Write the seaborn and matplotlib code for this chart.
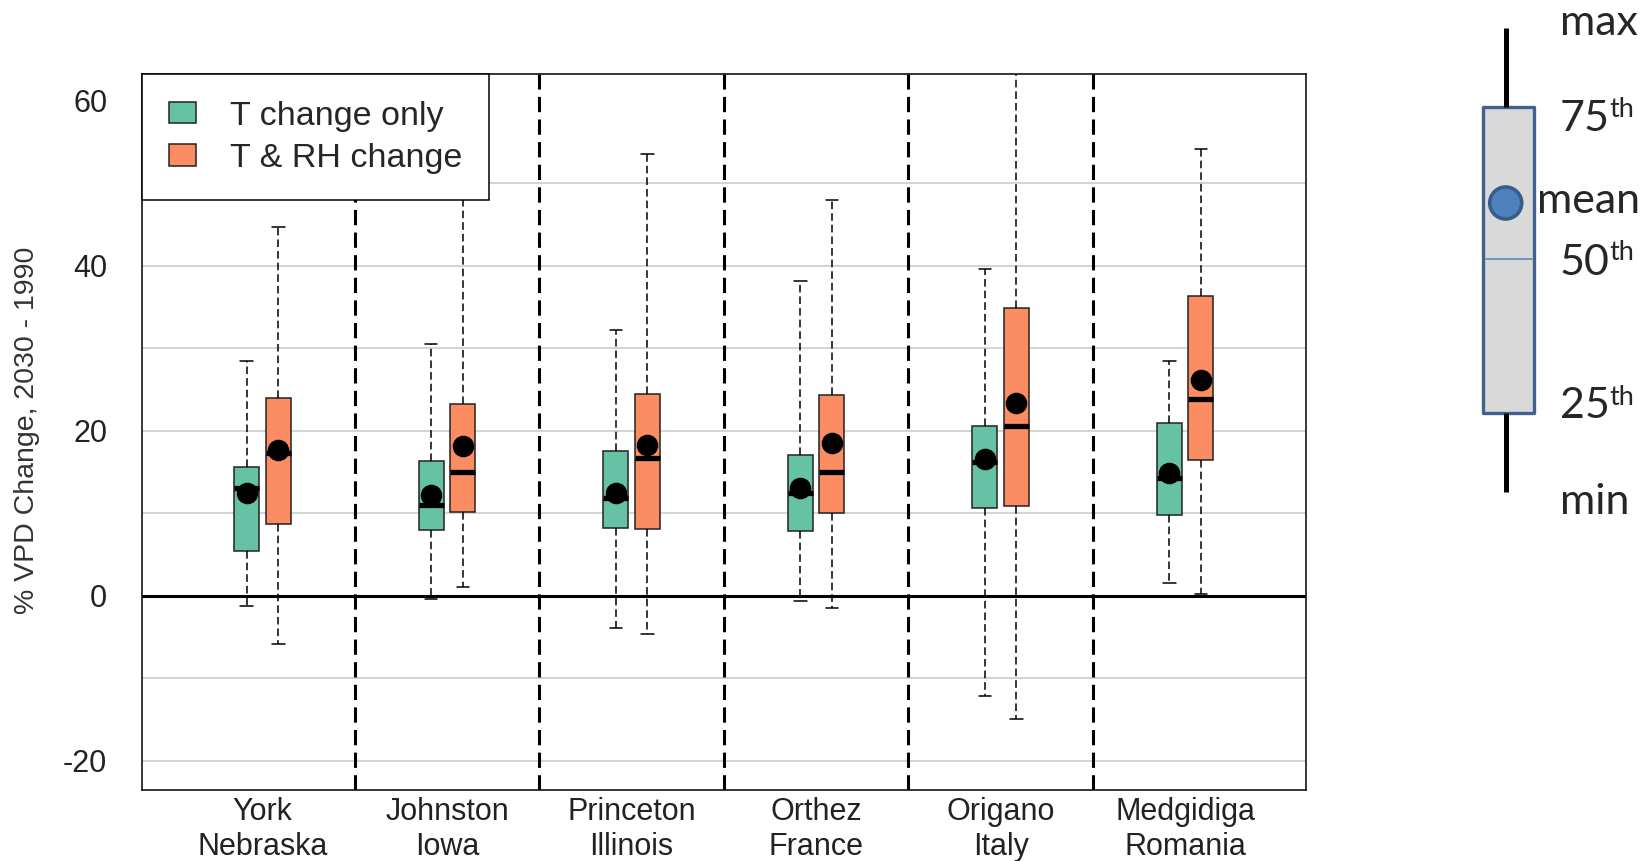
"""
Cambio de VPD 2030-1990 por localidad: cajas por escenario + esquema de lectura.
"""
import matplotlib
matplotlib.use("Agg")

import matplotlib.pyplot as plt
from matplotlib.patches import Rectangle, Circle
import pandas as pd
import seaborn as sns

# ============================================================
# DATOS
# ============================================================
sites = ["York\nNebraska", "Johnston\nIowa", "Princeton\nIllinois",
         "Orthez\nFrance", "Origano\nItaly", "Medgidiga\nRomania"]
scenarios = ["T change only", "T & RH change"]

# T change only
t_min = [-1.2, -0.4, -3.9, -0.7, -12.1, 1.5]
t_q1 = [5.4, 8.0, 8.2, 7.8, 10.6, 9.8]
t_med = [13.0, 11.0, 11.8, 12.5, 16.2, 14.3]
t_q3 = [15.6, 16.3, 17.6, 17.0, 20.6, 20.9]
t_max = [28.4, 30.5, 32.2, 38.1, 39.6, 28.5]
t_mean = [12.5, 12.2, 12.5, 13.1, 16.6, 14.9]

# T & RH change
r_min = [-5.9, 1.0, -4.7, -1.5, -15.0, 0.2]
r_q1 = [8.7, 10.1, 8.1, 10.0, 10.9, 16.5]
r_med = [17.3, 15.0, 16.7, 15.0, 20.6, 23.8]
r_q3 = [24.0, 23.2, 24.5, 24.3, 34.9, 36.3]
r_max = [44.7, 52.0, 53.5, 48.0, 66.0, 54.1]
r_mean = [17.7, 18.1, 18.3, 18.5, 23.4, 26.2]

y_ticks = [-20, 0, 20, 40, 60]
grid_levels = [-20, -10, 10, 20, 30, 40, 50]

# Colores
GREEN = "#66C2A5"
ORANGE = "#FC8D62"

# ============================================================
# ESTILO
# ============================================================
sns.set_theme(style="white")
plt.rcParams["font.family"] = ["Liberation Sans", "DejaVu Sans"]

# Tabla larga: cinco valores por caja (min, q1, mediana, q3, max)
rows = []
for i, site in enumerate(sites):
    for scen, vals in [
        (scenarios[0], [t_min[i], t_q1[i], t_med[i], t_q3[i], t_max[i]]),
        (scenarios[1], [r_min[i], r_q1[i], r_med[i], r_q3[i], r_max[i]]),
    ]:
        for v in vals:
            rows.append({"site": site, "scenario": scen, "value": v})
box_df = pd.DataFrame(rows)

mean_df = pd.DataFrame({
    "site": sites * 2,
    "scenario": [scenarios[0]] * len(sites) + [scenarios[1]] * len(sites),
    "mean": t_mean + r_mean,
})

W, H = 1651, 861
fig = plt.figure(figsize=(W / 100, H / 100), dpi=100)
ax = fig.add_axes([142 / W, 1 - 790 / H, (1306 - 142) / W, (790 - 74) / H])

# Lineas de referencia (detras de las cajas)
ax.hlines(grid_levels, -1, 7, color="#C8C8C8", linewidth=1.1, zorder=0)
ax.axhline(0, color="black", linewidth=2.2, zorder=1)
for b in range(len(sites) - 1):
    ax.axvline(b + 0.5, color="black", linewidth=2.2,
               linestyle=(0, (5, 2.4)), zorder=1)

sns.boxplot(
    data=box_df, x="site", y="value", hue="scenario",
    order=sites, hue_order=scenarios,
    palette={scenarios[0]: GREEN, scenarios[1]: ORANGE},
    saturation=1, width=0.342, gap=0.21, whis=(0, 100), showfliers=False,
    linecolor="#222222", linewidth=1.1,
    medianprops={"color": "black", "linewidth": 3.8},
    whiskerprops={"color": "black", "linewidth": 1.1, "linestyle": (0, (5, 2.6))},
    capprops={"color": "black", "linewidth": 1.1},
    ax=ax,
)

sns.pointplot(
    data=mean_df, x="site", y="mean", hue="scenario",
    order=sites, hue_order=scenarios,
    palette={scenarios[0]: "black", scenarios[1]: "black"},
    dodge=0.171, markers="o", linestyles="none", markersize=13.5,
    errorbar=None, legend=False, ax=ax,
)

ax.set_xlim(-0.653, 5.655)
ax.set_ylim(-23.55, 63.24)
ax.set_yticks(y_ticks)
ax.set_yticklabels([str(t) for t in y_ticks])
ax.tick_params(axis="y", length=0, pad=25, labelsize=22, labelcolor="#222222")
ax.tick_params(axis="x", length=0, pad=5, labelsize=22, labelcolor="#222222")
ax.set_xlabel("")
ax.set_ylabel("% VPD Change, 2030 - 1990", fontsize=20.5, color="#333333")
ax.yaxis.set_label_coords(-0.0876, 0.503)
ax.grid(False)
for s in ax.spines.values():
    s.set_visible(True)
    s.set_color("black")
    s.set_linewidth(1.1)

handles, labels = ax.get_legend_handles_labels()
leg = ax.legend(handles[:2], labels[:2], loc="upper left", borderaxespad=0,
                frameon=True, fancybox=False, framealpha=1, edgecolor="black",
                fontsize=24.5, handlelength=0.8, handleheight=0.6,
                handletextpad=1.0, borderpad=0.78, labelspacing=0.33)
leg.get_frame().set_linewidth(1.1)

# ============================================================
# ESQUEMA DE LECTURA (derecha)
# ============================================================
kx = fig.add_axes([1410 / W, 1 - 520 / H, (W - 1410) / W, 520 / H])
kx.set_xlim(1410, W)
kx.set_ylim(520, 0)
kx.axis("off")

kx.plot([1505.7, 1505.7], [28, 107], color="black", linewidth=3.6, solid_capstyle="butt")
kx.plot([1505.7, 1505.7], [413, 492], color="black", linewidth=3.6, solid_capstyle="butt")
kx.add_patch(Rectangle((1483, 107), 51, 306, facecolor="#D9D9D9",
                       edgecolor="#41628F", linewidth=2.4, joinstyle="round"))
kx.plot([1485, 1532], [259, 259], color="#4F81BD", linewidth=1.1)
kx.add_patch(Circle((1505.7, 203), 16, facecolor="#4F81BD",
                    edgecolor="#385D8A", linewidth=2.6, zorder=3))

key_font = ["Lato", "DejaVu Sans"]
kx.text(1560, 35, "max", fontsize=31, family=key_font, va="baseline", ha="left")
kx.text(1537, 213, "mean", fontsize=31, family=key_font, va="baseline", ha="left")
kx.text(1560, 514, "min", fontsize=31, family=key_font, va="baseline", ha="left")
for num, base, sup_base in [("75", 131, 117), ("50", 275, 260), ("25", 418, 405)]:
    kx.text(1560, base, num, fontsize=31, family=key_font, va="baseline", ha="left")
    kx.text(1609, sup_base, "th", fontsize=19.5, family=key_font, va="baseline", ha="left")

fig.savefig("out.png", dpi=100)
plt.close(fig)
